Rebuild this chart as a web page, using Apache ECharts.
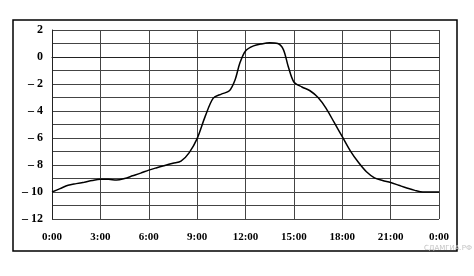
<!DOCTYPE html>
<html>
<head>
<meta charset="utf-8">
<script src="https://cdn.jsdelivr.net/npm/echarts@6/dist/echarts.min.js"></script>
<style>
html,body{margin:0;padding:0;background:#fff;}
#c{width:474px;height:276px;}
</style>
</head>
<body>
<div id="c"></div>
<script>
// Time of day (hours) and temperature (°C)
var hours = [0,0.5,1,1.5,2,2.5,3,3.5,4,4.5,5,5.5,6,6.5,7,7.5,8,8.5,9,9.5,10,10.5,11,11.35,11.65,12,12.5,13,13.5,14,14.35,14.65,15,15.5,16,16.5,17,17.5,18,18.5,19,19.5,20,20.5,21,21.5,22,22.5,23,23.5,24];
var temps = [-10,-9.75,-9.5,-9.38,-9.27,-9.15,-9.06,-9.05,-9.12,-9.0,-8.8,-8.6,-8.38,-8.2,-8.03,-7.87,-7.72,-7.1,-6.05,-4.4,-3.05,-2.75,-2.5,-1.7,-0.45,0.45,0.82,0.97,1.05,1.0,0.55,-0.7,-1.85,-2.22,-2.5,-3.0,-3.8,-4.85,-5.9,-6.95,-7.8,-8.5,-8.95,-9.15,-9.3,-9.5,-9.7,-9.88,-10.0,-10.0,-10.0];
var xTicks = ['0:00','3:00','6:00','9:00','12:00','15:00','18:00','21:00','0:00'];
var watermark = 'СДАМГИА.РФ';

var data = hours.map(function(h,i){return [h,temps[i]];});
var chart = echarts.init(document.getElementById('c'));
var labelFont = {fontFamily:'Liberation Serif', fontWeight:'bold', fontSize:11, color:'#000'};
chart.setOption({
  animation:false,
  backgroundColor:'#fff',
  grid:{left:52,right:35,top:30,bottom:57,containLabel:false},
  xAxis:{
    type:'value',min:0,max:24,interval:3,
    axisLine:{show:true,lineStyle:{color:'#222',width:1}},
    axisTick:{show:false},
    splitLine:{show:true,lineStyle:{color:'#444',width:1}},
    axisLabel:Object.assign({margin:13,showMinLabel:true,showMaxLabel:true,
      formatter:function(v){return xTicks[Math.round(v/3)];}},labelFont)
  },
  yAxis:{
    type:'value',min:-12,max:2,interval:1,
    axisLine:{show:true,lineStyle:{color:'#222',width:1}},
    axisTick:{show:false},
    splitLine:{show:true,lineStyle:{color:'#444',width:1}},
    axisLabel:Object.assign({},labelFont,{margin:9,fontSize:12,
      formatter:function(v){ if(Math.abs(v)%2) return ''; return v<0?('\u2013 '+(-v)):String(v);}})
  },
  graphic:[
    {type:'rect',shape:{x:13,y:20,width:444,height:231},style:{fill:'none',stroke:'#000',lineWidth:1.5},z:-1},
    {type:'text',right:2,top:245,style:{text:watermark,fill:'#c4c4c4',font:'7px "DejaVu Sans"'}}
  ],
  series:[{
    type:'line',data:data,smooth:0.3,showSymbol:false,
    lineStyle:{color:'#000',width:1.5}
  }]
});
</script>
</body>
</html>
